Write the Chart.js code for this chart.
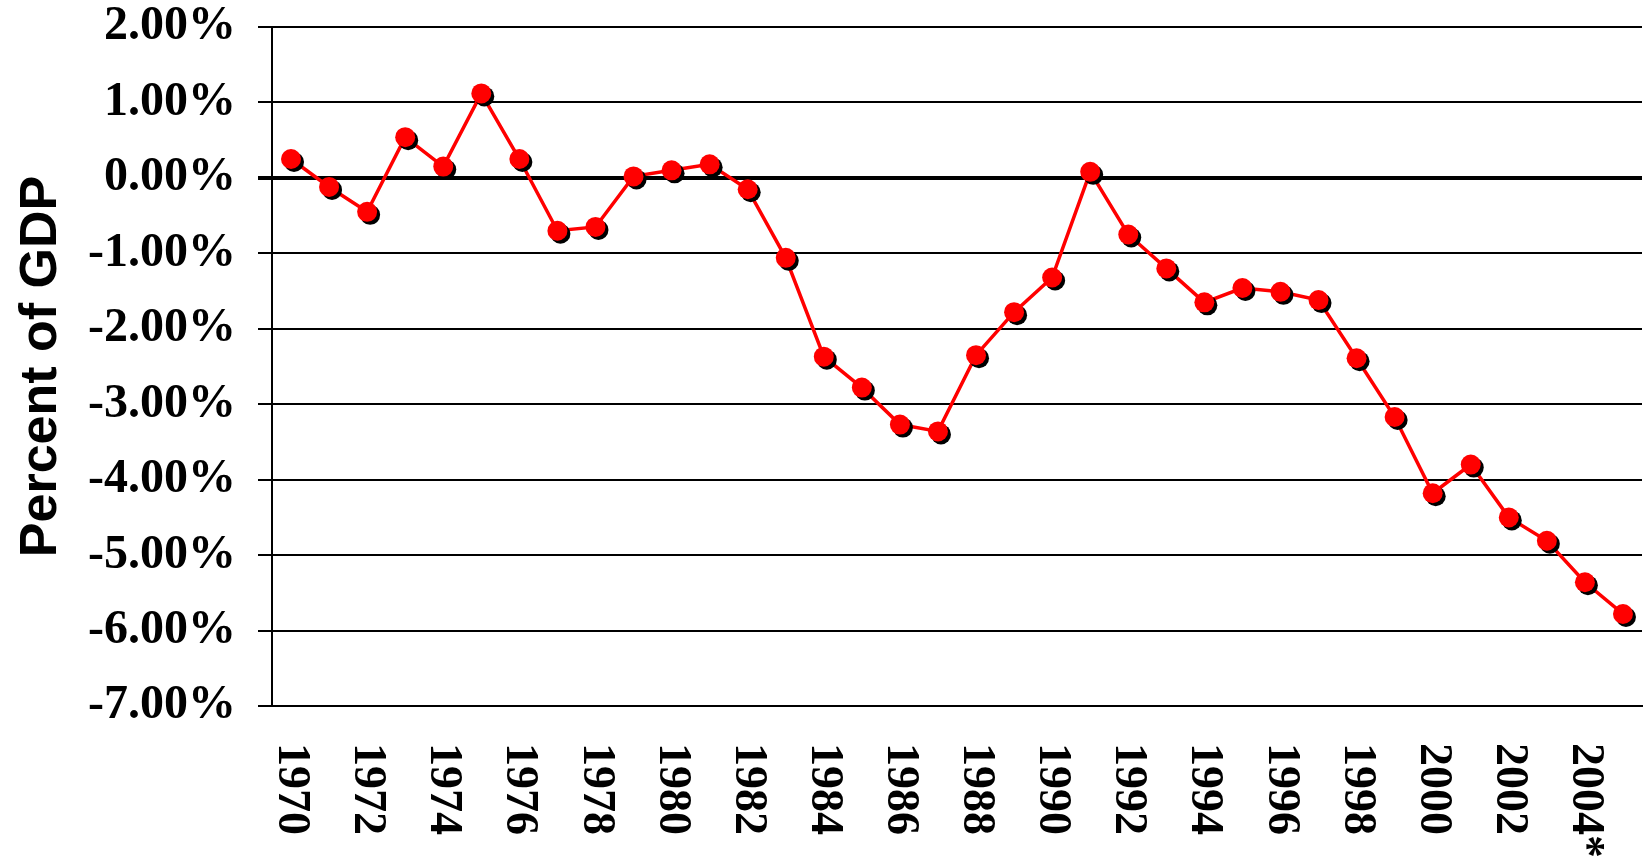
<!DOCTYPE html>
<html>
<head>
<meta charset="utf-8">
<script src="https://cdn.jsdelivr.net/npm/chart.js@4"></script>
<style>
  body { margin: 0; background: #fff; }
  canvas { display: block; }
</style>
</head>
<body>
<canvas id="balance" width="1652" height="863"></canvas>
<script>
// current account balance, percent of GDP
var years = ['1970', '1971', '1972', '1973', '1974', '1975', '1976', '1977', '1978', '1979',
	     '1980', '1981', '1982', '1983', '1984', '1985', '1986', '1987', '1988', '1989',
	     '1990', '1991', '1992', '1993', '1994', '1995', '1996', '1997', '1998', '1999',
	     '2000', '2001', '2002', '2003', '2004', '2005'];
var balance = [0.25, -0.12, -0.45, 0.54, 0.15, 1.12, 0.25, -0.70, -0.65, 0.02,
	       0.10, 0.18, -0.15, -1.06, -2.37, -2.78, -3.27, -3.36, -2.35, -1.78,
	       -1.32, 0.08, -0.75, -1.20, -1.65, -1.46, -1.51, -1.62, -2.39, -3.17,
	       -4.18, -3.80, -4.50, -4.81, -5.36, -5.78];
var x_ticks = ['1970', '1972', '1974', '1976', '1978', '1980', '1982', '1984', '1986',
	       '1988', '1990', '1992', '1994', '1996', '1998', '2000', '2002', '2004*'];
var y_title = 'Percent of GDP';

var serif = "'Liberation Serif', 'Times New Roman', serif";

// black drop shadow under the markers only
var marker_shadow = {
    id: 'marker_shadow',
    beforeDatasetDraw: function(chart, args) {
	if (args.index != 0)
	    return;
	var ctx = chart.ctx;
	ctx.save();
	ctx.shadowColor = '#000';
	ctx.shadowOffsetX = 3;
	ctx.shadowOffsetY = 3;
	ctx.shadowBlur = 0;
    },
    afterDatasetDraw: function(chart, args) {
	if (args.index != 0)
	    return;
	chart.ctx.restore();
    }
};

// year labels read top to bottom, which the bottom axis can't do by itself
var year_labels = {
    id: 'year_labels',
    afterDraw: function(chart) {
	var ctx = chart.ctx;
	var xs = chart.scales.x;
	ctx.save();
	ctx.fillStyle = '#000';
	ctx.font = 'bold 46px ' + serif;
	ctx.textAlign = 'left';
	ctx.textBaseline = 'middle';
	x_ticks.forEach(function(t) {
	    var idx = years.indexOf(t.substring(0, 4));
	    var x = xs.getPixelForValue(idx);
	    ctx.save();
	    ctx.translate(x, chart.chartArea.bottom + 37);
	    ctx.rotate(Math.PI / 2);
	    ctx.fillText(t, 0, 0);
	    ctx.restore();
	});
	ctx.restore();
    }
};

new Chart(document.getElementById('balance'), {
    type: 'line',
    data: {
	labels: years,
	datasets: [{
	    label: 'markers',
	    data: balance,
	    showLine: false,
	    pointRadius: 10,
	    pointHoverRadius: 10,
	    pointBackgroundColor: '#ff0000',
	    pointBorderWidth: 0,
	    clip: false
	}, {
	    label: 'line',
	    data: balance,
	    borderColor: '#ff0000',
	    borderWidth: 3.5,
	    pointRadius: 0,
	    tension: 0
	}]
    },
    options: {
	responsive: false,
	animation: false,
	devicePixelRatio: 1,
	layout: { padding: { top: 27, right: 0, bottom: 0, left: 0 } },
	plugins: {
	    legend: { display: false },
	    tooltip: { enabled: false }
	},
	scales: {
	    x: {
		offset: true,
		grid: { display: false },
		border: { display: true, color: '#000', width: 2 },
		ticks: { display: false },
		afterFit: function(scale) { scale.height = 157; }
	    },
	    y: {
		min: -7,
		max: 2,
		border: { display: true, color: '#000', width: 2 },
		grid: {
		    color: '#000',
		    lineWidth: function(c) { return c.tick && c.tick.value == 0 ? 4 : 2; },
		    tickLength: 14
		},
		ticks: {
		    stepSize: 1,
		    padding: 22,
		    color: '#000',
		    font: { family: serif, size: 48, weight: 'bold' },
		    callback: function(v) { return v.toFixed(2) + '%'; }
		},
		title: {
		    display: true,
		    text: y_title,
		    color: '#000',
		    padding: { top: 10, bottom: 0 },
		    font: { family: "'Liberation Sans', Arial, sans-serif", size: 52, weight: 'bold' }
		},
		afterFit: function(scale) {
		    scale.width = 272;
		    scale.paddingTop = 0;
		    scale.paddingBottom = 0;
		}
	    }
	}
    },
    plugins: [marker_shadow, year_labels]
});
</script>
</body>
</html>
